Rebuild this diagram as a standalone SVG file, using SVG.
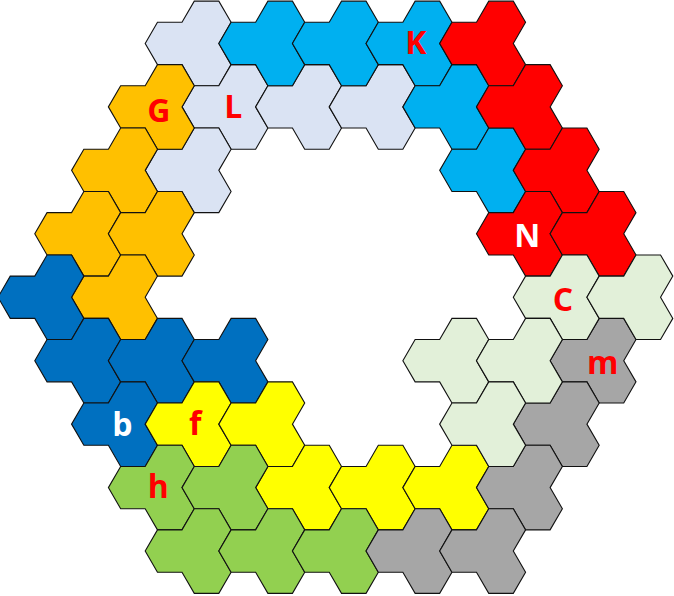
<svg xmlns="http://www.w3.org/2000/svg" width="674" height="596" viewBox="0 0 674 596">
<style>
  .t { stroke: #111; stroke-width: 1.1; stroke-linejoin: miter; }
  .lb { fill: #DAE3F3; }
  .cy { fill: #00B0F0; }
  .rd { fill: #FF0000; }
  .or { fill: #FFC000; }
  .db { fill: #0070C0; }
  .ye { fill: #FFFF00; }
  .gr { fill: #92D050; }
  .gy { fill: #A6A6A6; }
  .lg { fill: #E2F0D9; }
  .lbl { font-family: "Open Sans", "Liberation Sans", sans-serif; font-weight: 700; font-size: 32px; text-anchor: middle; fill: #FF0000; }
  .w { fill: #FFFFFF; }
</style>
<defs>
  <path id="tri" d="M-24.54,0 L-12.27,-21.15 L12.27,-21.15 L24.54,-42.3 L49.08,-42.3 L61.35,-21.15 L49.08,0 L61.35,21.15 L49.08,42.3 L24.54,42.3 L12.27,21.15 L-12.27,21.15 Z"/>
</defs>
<rect width="674" height="596" fill="#FFFFFF"/>
<g id="pieces">
  <g id="lightblue-1"><use href="#tri" class="t lb" x="169.74" y="43.45"/></g>
  <g id="piece-L"><use href="#tri" class="t lb" x="206.55" y="106.9"/><text class="lbl" x="233.3" y="118.3">L</text></g>
  <g id="lightblue-3"><use href="#tri" class="t lb" x="169.74" y="170.35"/></g>
  <g id="lightblue-4"><use href="#tri" class="t lb" x="280.17" y="106.9"/></g>
  <g id="lightblue-5"><use href="#tri" class="t lb" x="353.79" y="106.9"/></g>

  <g id="cyan-1"><use href="#tri" class="t cy" x="243.36" y="43.45"/></g>
  <g id="cyan-2"><use href="#tri" class="t cy" x="316.98" y="43.45"/></g>
  <g id="piece-K"><use href="#tri" class="t cy" x="390.6" y="43.45"/><text class="lbl" x="415.8" y="54">K</text></g>
  <g id="cyan-4"><use href="#tri" class="t cy" x="427.41" y="106.9"/></g>
  <g id="cyan-5"><use href="#tri" class="t cy" x="464.22" y="170.35"/></g>

  <g id="red-1"><use href="#tri" class="t rd" x="464.22" y="43.45"/></g>
  <g id="red-2"><use href="#tri" class="t rd" x="501.03" y="106.9"/></g>
  <g id="red-3"><use href="#tri" class="t rd" x="537.84" y="170.35"/></g>
  <g id="piece-N"><use href="#tri" class="t rd" x="501.03" y="233.8"/><text class="lbl w" x="527.3" y="246.7">N</text></g>
  <g id="red-5"><use href="#tri" class="t rd" x="574.65" y="233.8"/></g>

  <g id="piece-G"><use href="#tri" class="t or" x="132.93" y="106.9"/><text class="lbl" x="158.8" y="121.5">G</text></g>
  <g id="orange-2"><use href="#tri" class="t or" x="96.12" y="170.35"/></g>
  <g id="orange-3"><use href="#tri" class="t or" x="59.31" y="233.8"/></g>
  <g id="orange-4"><use href="#tri" class="t or" x="132.93" y="233.8"/></g>
  <g id="orange-5"><use href="#tri" class="t or" x="96.12" y="297.25"/></g>

  <g id="darkblue-1"><use href="#tri" class="t db" x="22.5" y="297.25"/></g>
  <g id="darkblue-2"><use href="#tri" class="t db" x="59.31" y="360.7"/></g>
  <g id="darkblue-3"><use href="#tri" class="t db" x="132.93" y="360.7"/></g>
  <g id="darkblue-4"><use href="#tri" class="t db" x="206.55" y="360.7"/></g>
  <g id="piece-b"><use href="#tri" class="t db" x="96.12" y="424.15"/><text class="lbl w" x="122.3" y="436">b</text></g>

  <g id="piece-f"><use href="#tri" class="t ye" x="169.74" y="424.15"/><text class="lbl" x="195.3" y="435">f</text></g>
  <g id="yellow-2"><use href="#tri" class="t ye" x="243.36" y="424.15"/></g>
  <g id="yellow-3"><use href="#tri" class="t ye" x="280.17" y="487.6"/></g>
  <g id="yellow-4"><use href="#tri" class="t ye" x="353.79" y="487.6"/></g>
  <g id="yellow-5"><use href="#tri" class="t ye" x="427.41" y="487.6"/></g>

  <g id="piece-h"><use href="#tri" class="t gr" x="132.93" y="487.6"/><text class="lbl" x="158.3" y="498">h</text></g>
  <g id="green-2"><use href="#tri" class="t gr" x="206.55" y="487.6"/></g>
  <g id="green-3"><use href="#tri" class="t gr" x="169.74" y="551.05"/></g>
  <g id="green-4"><use href="#tri" class="t gr" x="243.36" y="551.05"/></g>
  <g id="green-5"><use href="#tri" class="t gr" x="316.98" y="551.05"/></g>

  <g id="piece-m"><use href="#tri" class="t gy" x="574.65" y="360.7"/><text class="lbl" x="602.7" y="374">m</text></g>
  <g id="gray-2"><use href="#tri" class="t gy" x="537.84" y="424.15"/></g>
  <g id="gray-3"><use href="#tri" class="t gy" x="501.03" y="487.6"/></g>
  <g id="gray-4"><use href="#tri" class="t gy" x="390.6" y="551.05"/></g>
  <g id="gray-5"><use href="#tri" class="t gy" x="464.22" y="551.05"/></g>

  <g id="piece-C"><use href="#tri" class="t lg" x="537.84" y="297.25"/><text class="lbl" x="563" y="311">C</text></g>
  <g id="lightgreen-2"><use href="#tri" class="t lg" x="611.46" y="297.25"/></g>
  <g id="lightgreen-3"><use href="#tri" class="t lg" x="427.41" y="360.7"/></g>
  <g id="lightgreen-4"><use href="#tri" class="t lg" x="501.03" y="360.7"/></g>
  <g id="lightgreen-5"><use href="#tri" class="t lg" x="464.22" y="424.15"/></g>
</g>
</svg>
